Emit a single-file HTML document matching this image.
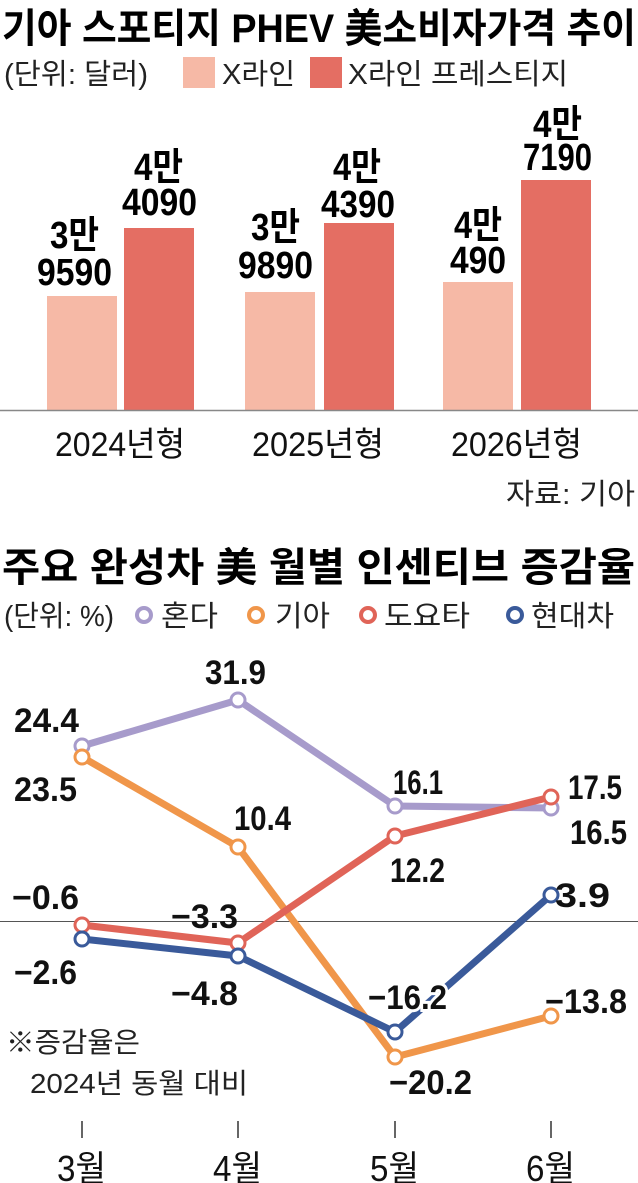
<!DOCTYPE html>
<html><head><meta charset="utf-8"><style>
html,body{margin:0;padding:0;background:#fff;}
svg{display:block;}
text{font-family:"Liberation Sans","Noto Sans CJK KR",sans-serif;}
.b{font-weight:bold;font-size:38px;}
.n{font-weight:bold;font-size:34px;}
</style></head><body>
<svg width="638" height="1183" viewBox="0 0 638 1183">
<text x="2" y="42" font-size="40" font-weight="bold" textLength="634" lengthAdjust="spacingAndGlyphs">기아 스포티지 PHEV 美소비자가격 추이</text>
<text x="4" y="84" font-size="29" fill="#222" textLength="144" lengthAdjust="spacingAndGlyphs">(단위: 달러)</text>
<rect x="183" y="57" width="32" height="31" fill="#f6b9a6"/>
<text x="222" y="84" font-size="29" fill="#222" textLength="73" lengthAdjust="spacingAndGlyphs">X라인</text>
<rect x="310" y="57" width="32" height="31" fill="#e46e63"/>
<text x="348" y="84" font-size="29" fill="#222" textLength="220" lengthAdjust="spacingAndGlyphs">X라인 프레스티지</text>
<rect x="47" y="296" width="70" height="114" fill="#f6b9a6"/>
<rect x="124" y="228" width="70" height="182" fill="#e46e63"/>
<rect x="245" y="292" width="70" height="118" fill="#f6b9a6"/>
<rect x="324" y="223" width="70" height="187" fill="#e46e63"/>
<rect x="443" y="282" width="70" height="128" fill="#f6b9a6"/>
<rect x="521" y="180" width="70" height="230" fill="#e46e63"/>
<line x1="0" y1="410.5" x2="638" y2="410.5" stroke="#888" stroke-width="1.5"/>
<g class="b" lengthAdjust="spacingAndGlyphs">
<text x="50" y="248" textLength="49" lengthAdjust="spacingAndGlyphs">3만</text><text x="37" y="285" textLength="75" lengthAdjust="spacingAndGlyphs">9590</text>
<text x="134" y="180" textLength="49" lengthAdjust="spacingAndGlyphs">4만</text><text x="122" y="215" textLength="75" lengthAdjust="spacingAndGlyphs">4090</text>
<text x="251" y="240" textLength="49" lengthAdjust="spacingAndGlyphs">3만</text><text x="238" y="278" textLength="75" lengthAdjust="spacingAndGlyphs">9890</text>
<text x="333" y="180" textLength="48" lengthAdjust="spacingAndGlyphs">4만</text><text x="321" y="217" textLength="74" lengthAdjust="spacingAndGlyphs">4390</text>
<text x="454" y="238" textLength="48" lengthAdjust="spacingAndGlyphs">4만</text><text x="450" y="273" textLength="56" lengthAdjust="spacingAndGlyphs">490</text>
<text x="533" y="137" textLength="49" lengthAdjust="spacingAndGlyphs">4만</text><text x="523" y="170" textLength="69" lengthAdjust="spacingAndGlyphs">7190</text>
</g>
<g font-size="34" fill="#111">
<text x="55" y="456" textLength="130" lengthAdjust="spacingAndGlyphs">2024년형</text>
<text x="252" y="456" textLength="132" lengthAdjust="spacingAndGlyphs">2025년형</text>
<text x="451" y="456" textLength="131" lengthAdjust="spacingAndGlyphs">2026년형</text>
</g>
<text x="506" y="504" font-size="29" fill="#222" textLength="129" lengthAdjust="spacingAndGlyphs">자료: 기아</text>

<text x="2" y="581" font-size="40" font-weight="bold" textLength="633" lengthAdjust="spacingAndGlyphs">주요 완성차 美 월별 인센티브 증감율</text>
<text x="4" y="626" font-size="29" fill="#222" textLength="110" lengthAdjust="spacingAndGlyphs">(단위: %)</text>
<g stroke-width="4" fill="#fff">
<circle cx="144" cy="615" r="7" stroke="#a79bcb"/>
<circle cx="256" cy="615" r="7" stroke="#f0964a"/>
<circle cx="368" cy="615" r="7" stroke="#e06458"/>
<circle cx="515" cy="615" r="7" stroke="#3a5a9a"/>
</g>
<g font-size="29" fill="#222">
<text x="161" y="626" textLength="57" lengthAdjust="spacingAndGlyphs">혼다</text>
<text x="275" y="626" textLength="55" lengthAdjust="spacingAndGlyphs">기아</text>
<text x="384" y="626" textLength="86" lengthAdjust="spacingAndGlyphs">도요타</text>
<text x="531" y="626" textLength="83" lengthAdjust="spacingAndGlyphs">현대차</text>
</g>
<line x1="0" y1="921.5" x2="638" y2="921.5" stroke="#555" stroke-width="1"/>
<g fill="none" stroke-width="7" stroke-linejoin="round">
<polyline points="82,746 238,700 395,806 551,808" stroke="#a79bcb"/>
<polyline points="82,757 238,847 395,1057 551,1016" stroke="#f0964a"/>
<polyline points="82,925 238,943 395,836 551,797" stroke="#e06458"/>
<polyline points="82,939 238,956 395,1032 551,895" stroke="#3a5a9a"/>
</g>
<g fill="#fff" stroke-width="3">
<circle cx="82" cy="746" r="7" stroke="#a79bcb"/><circle cx="238" cy="700" r="7" stroke="#a79bcb"/><circle cx="395" cy="806" r="7" stroke="#a79bcb"/><circle cx="551" cy="808" r="7" stroke="#a79bcb"/>
<circle cx="82" cy="757" r="7" stroke="#f0964a"/><circle cx="238" cy="847" r="7" stroke="#f0964a"/><circle cx="395" cy="1057" r="7" stroke="#f0964a"/><circle cx="551" cy="1016" r="7" stroke="#f0964a"/>
<circle cx="82" cy="925" r="7" stroke="#e06458"/><circle cx="238" cy="943" r="7" stroke="#e06458"/><circle cx="395" cy="836" r="7" stroke="#e06458"/><circle cx="551" cy="797" r="7" stroke="#e06458"/>
<circle cx="82" cy="939" r="7" stroke="#3a5a9a"/><circle cx="238" cy="956" r="7" stroke="#3a5a9a"/><circle cx="395" cy="1032" r="7" stroke="#3a5a9a"/><circle cx="551" cy="895" r="7" stroke="#3a5a9a"/>
</g>
<g class="n" fill="#111">
<text x="14" y="732" textLength="65" lengthAdjust="spacingAndGlyphs">24.4</text>
<text x="14" y="801" textLength="63" lengthAdjust="spacingAndGlyphs">23.5</text>
<text x="205" y="684" textLength="61" lengthAdjust="spacingAndGlyphs">31.9</text>
<text x="234" y="830" textLength="57" lengthAdjust="spacingAndGlyphs">10.4</text>
<text x="393" y="794" textLength="50" lengthAdjust="spacingAndGlyphs">16.1</text>
<text x="568" y="799" textLength="54" lengthAdjust="spacingAndGlyphs">17.5</text>
<text x="570" y="844" textLength="57" lengthAdjust="spacingAndGlyphs">16.5</text>
<text x="390" y="882" textLength="55" lengthAdjust="spacingAndGlyphs">12.2</text>
<text x="555" y="907" textLength="55" lengthAdjust="spacingAndGlyphs">3.9</text>
<text x="12" y="909" textLength="67" lengthAdjust="spacingAndGlyphs">−0.6</text>
<text x="171" y="928" textLength="67" lengthAdjust="spacingAndGlyphs">−3.3</text>
<text x="14" y="984" textLength="63" lengthAdjust="spacingAndGlyphs">−2.6</text>
<text x="171" y="1005" textLength="67" lengthAdjust="spacingAndGlyphs">−4.8</text>
<text x="368" y="1009" textLength="79" lengthAdjust="spacingAndGlyphs" stroke="#fff" stroke-width="6" paint-order="stroke">−16.2</text>
<text x="545" y="1013" textLength="82" lengthAdjust="spacingAndGlyphs">−13.8</text>
<text x="389" y="1094" textLength="83" lengthAdjust="spacingAndGlyphs">−20.2</text>
</g>
<text x="6" y="1052" font-size="28" fill="#222" textLength="134" lengthAdjust="spacingAndGlyphs">※증감율은</text>
<text x="30" y="1093" font-size="28" fill="#222" textLength="218" lengthAdjust="spacingAndGlyphs">2024년 동월 대비</text>
<g stroke="#333" stroke-width="1.5">
<line x1="82" y1="1121" x2="82" y2="1138"/><line x1="238" y1="1121" x2="238" y2="1138"/><line x1="395" y1="1121" x2="395" y2="1138"/><line x1="551" y1="1121" x2="551" y2="1138"/>
</g>
<g font-size="36" fill="#111">
<text x="57" y="1181" textLength="49" lengthAdjust="spacingAndGlyphs">3월</text>
<text x="213" y="1181" textLength="49" lengthAdjust="spacingAndGlyphs">4월</text>
<text x="370" y="1181" textLength="49" lengthAdjust="spacingAndGlyphs">5월</text>
<text x="526" y="1181" textLength="49" lengthAdjust="spacingAndGlyphs">6월</text>
</g>
</svg>
</body></html>
